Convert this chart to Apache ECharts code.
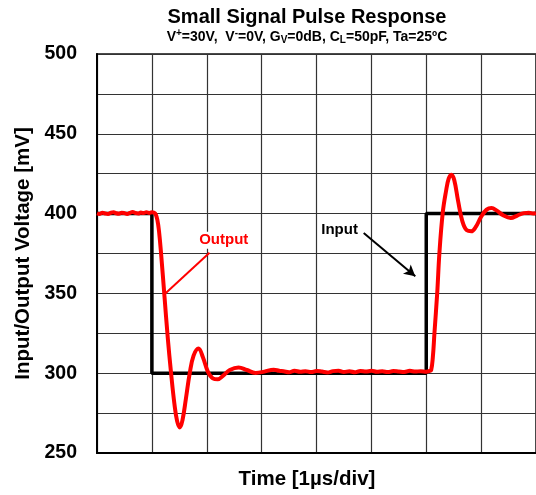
<!DOCTYPE html>
<html>
<head>
<meta charset="utf-8">
<script src="https://cdn.jsdelivr.net/npm/echarts@6/dist/echarts.min.js"></script>
<style>
  html, body { margin: 0; padding: 0; background: #fff; }
  #chart { width: 536px; height: 495px; }
</style>
</head>
<body>
<div id="chart"></div>
<script>
  // time in divisions (1 µs/div), voltage in mV
  var inTime = [0, 1, 1, 6, 6, 8];
  var inMv = [400, 400, 300, 300, 400, 400];

  var outTime = [0, 0.05, 0.1, 0.15, 0.2, 0.25, 0.3, 0.35, 0.4, 0.45, 0.5, 0.55, 0.6, 0.65, 0.7, 0.75, 0.8, 0.85, 0.9, 0.95, 1.0, 1.04,
    1.07, 1.1, 1.13, 1.17, 1.23, 1.29, 1.35, 1.41, 1.46, 1.51, 1.56, 1.62, 1.69, 1.76, 1.85, 1.93, 2.02, 2.11, 2.2, 2.3, 2.42, 2.58, 2.73, 2.89, 3.05, 3.22, 3.32,
    3.4, 3.5, 3.6, 3.7, 3.8, 3.9, 4.0, 4.1, 4.2, 4.3, 4.4, 4.5, 4.6, 4.7, 4.8, 4.9, 5.0, 5.1, 5.2, 5.3, 5.4, 5.5, 5.6, 5.7, 5.8, 5.9, 6.0, 6.06,
    6.09, 6.12, 6.15, 6.2, 6.24, 6.3, 6.36, 6.41, 6.46, 6.51, 6.58, 6.66, 6.74, 6.82, 6.9, 7.0, 7.1, 7.19, 7.28, 7.4, 7.54, 7.66, 7.78, 7.87, 7.95, 8.0];
  var outMv = [400.2, 399.8, 400.6, 400.1, 399.7, 400.5, 400.9, 400.2, 399.9, 400.6, 400.3, 399.8, 400.5, 401.0, 400.4, 400.0, 400.7, 400.3, 400.9, 400.4, 400.8, 400.5,
    399.5, 396, 389, 374, 348, 322, 300, 281, 270, 266, 271, 284, 300, 311, 315.5, 310, 301, 296.8, 296.2, 298.5, 302, 303.6, 302, 300.2, 301, 302.2, 301.5,
    301.2, 300.6, 301.5, 300.9, 301.3, 300.7, 301.4, 301.0, 300.5, 301.3, 301.6, 300.8, 301.2, 300.6, 301.4, 301.0, 301.5, 300.9, 301.2, 300.7, 301.4, 301.1, 300.8, 301.5, 301.0, 301.3, 300.9, 301.4,
    302, 310, 325.4, 350.4, 375.4, 400.4, 414, 422, 424.4, 421, 408, 395, 389.5, 388.9, 391.5, 398, 402.5, 403.5, 402, 399, 397.3, 398.8, 400.3, 400.5, 400, 400.4];

  var yTicks = [250, 300, 350, 400, 450, 500];

  // annotation anchors (data coords)
  var outputLabelAt = [2.31, 383.3];
  var outputPointer = [[2.05, 375.4], [1.245, 350]];
  var inputLabelAt = [4.42, 390];
  var inputArrow = [[4.86, 387.9], [5.8, 360.8]];

  function zip(xs, ys) {
    return xs.map(function (x, i) { return [x, ys[i]]; });
  }

  var FONT = '"Liberation Sans", Arial, sans-serif';

  var chart = echarts.init(document.getElementById('chart'));
  var option = {
    animation: false,
    textStyle: { fontFamily: FONT },
    grid: {
      left: 97, right: 0, top: 54, bottom: 41,
      show: true, borderColor: '#111', borderWidth: 1.5
    },
    xAxis: {
      type: 'value', min: 0, max: 8, interval: 1,
      name: 'Time [1µs/div]', nameLocation: 'middle', nameGap: 16,
      nameTextStyle: { fontSize: 20.5, fontWeight: 'bold', color: '#000', fontFamily: FONT, padding: [0, 19, 0, 0] },
      axisLine: { lineStyle: { color: '#000', width: 2 } },
      axisTick: { show: false },
      axisLabel: { show: false },
      splitLine: { show: true, lineStyle: { color: '#333', width: 1.2 } }
    },
    yAxis: {
      type: 'value', min: 250, max: 500, interval: 25,
      name: 'Input/Output Voltage [mV]', nameLocation: 'middle', nameGap: 63,
      nameTextStyle: { fontSize: 20.5, fontWeight: 'bold', color: '#000', fontFamily: FONT },
      axisLine: { show: true, lineStyle: { color: '#000', width: 2 } },
      axisTick: { show: false },
      axisLabel: {
        margin: 20, fontSize: 19.5, fontWeight: 'bold', color: '#000', fontFamily: FONT,
        formatter: function (v) { return yTicks.indexOf(v) >= 0 ? String(v) : ''; }
      },
      splitLine: { show: true, lineStyle: { color: '#333', width: 1.2 } }
    },
    series: [
      {
        name: 'Input', type: 'line', data: zip(inTime, inMv),
        showSymbol: false, symbol: 'none',
        lineStyle: { color: '#000', width: 3.5 },
        z: 3,
        markLine: {
          silent: true, animation: false,
          symbol: ['none', 'arrow'], symbolSize: [9, 11],
          label: { show: false },
          lineStyle: { color: '#000', width: 2, type: 'solid' },
          data: [[{ coord: inputArrow[0] }, { coord: inputArrow[1] }]]
        }
      },
      {
        name: 'Output', type: 'line', data: zip(outTime, outMv),
        showSymbol: false, symbol: 'none',
        smooth: 0.4,
        lineStyle: { color: '#ff0000', width: 4 },
        z: 4,
        markLine: {
          silent: true, animation: false,
          symbol: ['none', 'none'],
          label: { show: false },
          lineStyle: { color: '#ff0000', width: 2, type: 'solid' },
          data: [[{ coord: outputPointer[0] }, { coord: outputPointer[1] }]]
        }
      }
    ]
  };
  chart.setOption(option);

  var pOut = chart.convertToPixel({ gridIndex: 0 }, outputLabelAt);
  var pIn = chart.convertToPixel({ gridIndex: 0 }, inputLabelAt);

  chart.setOption({
    graphic: [
      {
        type: 'text', z: 10,
        style: {
          x: 307, y: 17, text: 'Small Signal Pulse Response',
          fontSize: 20, fontWeight: 'bold', fontFamily: FONT, fill: '#000', align: 'center', verticalAlign: 'middle'
        }
      },
      {
        type: 'text', z: 10,
        style: {
          x: 307, y: 37,
          text: 'V{sup|+}=30V,  V{sup|-}=0V, G{sub|V}=0dB, C{sub|L}=50pF, Ta=25ºC',
          fontSize: 14, fontWeight: 'bold', fontFamily: FONT, fill: '#000', align: 'center', verticalAlign: 'middle',
          rich: {
            sup: { fontSize: 10, fontWeight: 'bold', fontFamily: FONT, verticalAlign: 'top', lineHeight: 17 },
            sub: { fontSize: 10, fontWeight: 'bold', fontFamily: FONT, verticalAlign: 'bottom', lineHeight: 17 }
          }
        }
      },
      {
        type: 'text', z: 10,
        style: {
          x: pOut[0], y: pOut[1], text: 'Output',
          fontSize: 15, fontWeight: 'bold', fontFamily: FONT, fill: '#ff0000', align: 'center', verticalAlign: 'middle',
          backgroundColor: '#fff', padding: [1, 2]
        }
      },
      {
        type: 'text', z: 10,
        style: {
          x: pIn[0], y: pIn[1], text: 'Input',
          fontSize: 15, fontWeight: 'bold', fontFamily: FONT, fill: '#000', align: 'center', verticalAlign: 'middle',
          backgroundColor: '#fff', padding: [1, 2]
        }
      }
    ]
  });
</script>
</body>
</html>
